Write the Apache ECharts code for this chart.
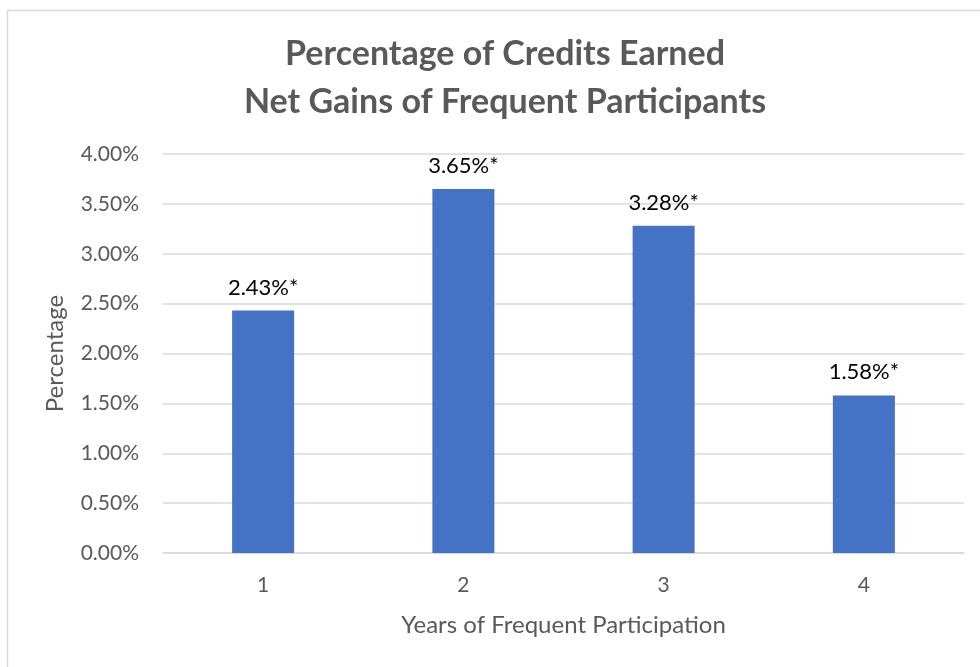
<!DOCTYPE html>
<html>
<head>
<meta charset="utf-8">
<script src="https://cdn.jsdelivr.net/npm/echarts@6/dist/echarts.min.js"></script>
<style>
  html, body { margin: 0; padding: 0; background: #fff; }
  #chart { width: 980px; height: 667px; }
</style>
</head>
<body>
<div id="chart"></div>
<script>
var years = ['1', '2', '3', '4'];
var gains = [2.43, 3.65, 3.28, 1.58];
var labelSuffix = '%*';

var chartDom = document.getElementById('chart');
var myChart = echarts.init(chartDom);
var font = 'Lato, "Open Sans", sans-serif';

var option = {
  animation: false,
  textStyle: { fontFamily: font },
  graphic: [{
    type: 'rect',
    shape: { x: 7.5, y: 10.5, width: 1000, height: 700 },
    style: { fill: 'none', stroke: '#d9d9d9', lineWidth: 1.5 },
    silent: true
  }],
  title: {
    text: 'Percentage of Credits Earned\nNet Gains of Frequent Participants',
    left: 500,
    top: 25,
    textAlign: 'center',
    textStyle: {
      fontFamily: font,
      fontSize: 34,
      fontWeight: 'bold',
      color: '#595959',
      lineHeight: 48
    }
  },
  grid: { left: 163, right: 16, top: 154, bottom: 114 },
  xAxis: {
    type: 'category',
    data: years,
    name: 'Years of Frequent Participation',
    nameLocation: 'middle',
    nameGap: 60,
    nameTextStyle: { fontSize: 24, color: '#595959', fontFamily: font },
    axisLine: { lineStyle: { color: '#d9d9d9', width: 1.5 } },
    axisTick: { show: false },
    axisLabel: { fontSize: 21, color: '#595959', margin: 22, fontFamily: font }
  },
  yAxis: {
    type: 'value',
    min: 0,
    max: 4,
    interval: 0.5,
    name: 'Percentage',
    nameLocation: 'middle',
    nameGap: 96,
    nameTextStyle: { fontSize: 24, color: '#595959', fontFamily: font },
    axisLine: { show: false },
    axisTick: { show: false },
    splitLine: { lineStyle: { color: '#d9d9d9', width: 1.5 } },
    axisLabel: {
      fontSize: 21,
      color: '#595959',
      margin: 24,
      fontFamily: font,
      formatter: function (v) { return v.toFixed(2) + '%'; }
    }
  },
  series: [{
    type: 'bar',
    data: gains,
    barWidth: 62,
    itemStyle: { color: '#4472C4' },
    label: {
      show: true,
      position: 'top',
      distance: 12,
      fontSize: 22,
      color: '#000',
      fontFamily: font,
      formatter: function (p) { return p.value.toFixed(2) + labelSuffix; }
    }
  }]
};
myChart.setOption(option);
</script>
</body>
</html>
